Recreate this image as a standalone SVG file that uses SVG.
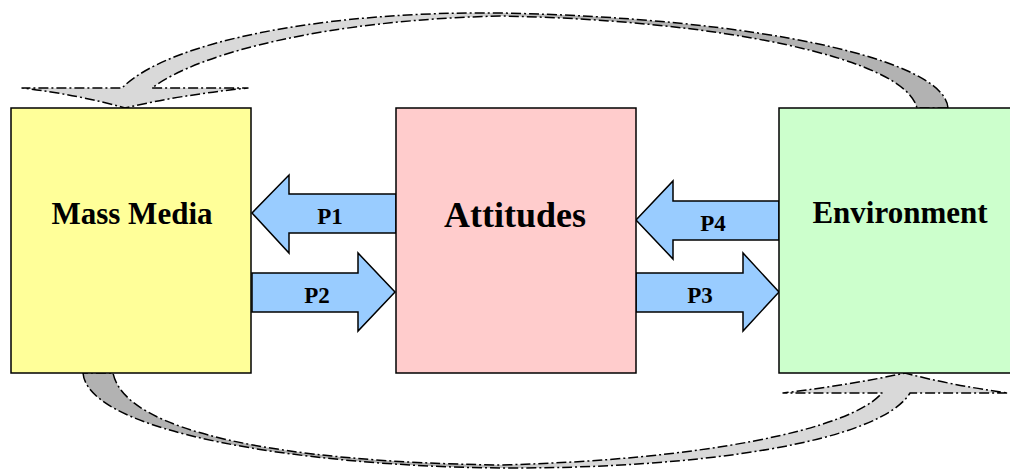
<svg xmlns="http://www.w3.org/2000/svg" width="1010" height="470" viewBox="0 0 1010 470">
  <style>
    .box { stroke: #000; stroke-width: 1.5; }
    .title { font-family: "Liberation Serif", "Times New Roman", serif; font-weight: bold; text-anchor: middle; fill: #000; }
    .arrow { fill: #99ccff; stroke: #000; stroke-width: 1.5; stroke-linejoin: miter; }
    .plabel { font-family: "Liberation Serif", "Times New Roman", serif; font-weight: bold; font-size: 23px; text-anchor: middle; fill: #000; }
    .curve { stroke: #000; stroke-width: 1.5; stroke-dasharray: 10 3 2 3; stroke-linejoin: round; }
  </style>
  <defs>
    <linearGradient id="gTop" gradientUnits="userSpaceOnUse" x1="947" y1="0" x2="125" y2="0">
      <stop offset="0" stop-color="#b2b2b2"/>
      <stop offset="0.45" stop-color="#b2b2b2"/>
      <stop offset="0.6" stop-color="#d9d9d9"/>
      <stop offset="1" stop-color="#d9d9d9"/>
    </linearGradient>
    <linearGradient id="gBot" gradientUnits="userSpaceOnUse" x1="83" y1="0" x2="905" y2="0">
      <stop offset="0" stop-color="#b2b2b2"/>
      <stop offset="0.45" stop-color="#b2b2b2"/>
      <stop offset="0.6" stop-color="#d9d9d9"/>
      <stop offset="1" stop-color="#d9d9d9"/>
    </linearGradient>
  </defs>
  <rect width="1010" height="470" fill="#ffffff"/>

  <g id="connectors">
    <path id="curve-top" class="curve" fill="url(#gTop)" d="M 948,108 C 945,60 760,18 500,13 C 330,11 170,40 122,88 L 22,88 Q 80,95 125,108 Q 180,95 248,88 L 152,88 C 200,52 330,20 500,16 C 720,20 905,58 917,108 Z"/>
    <path id="curve-bottom" class="curve" fill="url(#gBot)" d="M 83,373 C 88,432 300,466 500,468 C 700,469 880,442 910,393 L 1008,393 Q 950,385 905,373 Q 850,385 783,393 L 882,393 C 850,430 700,460 500,465 C 280,462 125,432 113,373 Z"/>
    <g id="p1">
      <polygon class="arrow" points="396,194 289,194 289,175 252,213 289,253 289,233 396,233"/>
      <text class="plabel" x="330" y="224">P1</text>
    </g>
    <g id="p2">
      <polygon class="arrow" points="252,273 358,273 358,253 395,292 358,331 358,312 252,312"/>
      <text class="plabel" x="317" y="303">P2</text>
    </g>
    <g id="p4">
      <polygon class="arrow" points="779,201 673,201 673,181 636,220 673,259 673,240 779,240"/>
      <text class="plabel" x="713" y="231">P4</text>
    </g>
    <g id="p3">
      <polygon class="arrow" points="636,273 743,273 743,253 779,292 743,331 743,312 636,312"/>
      <text class="plabel" x="700" y="303">P3</text>
    </g>
  </g>

  <g id="mass-media">
    <rect class="box" x="11" y="108" width="240" height="265" fill="#ffff99"/>
    <text class="title" x="132" y="224" font-size="31">Mass Media</text>
  </g>
  <g id="attitudes">
    <rect class="box" x="396" y="108" width="240" height="265" fill="#ffcccc"/>
    <text class="title" x="515" y="227" font-size="36">Attitudes</text>
  </g>
  <g id="environment">
    <rect class="box" x="779" y="108" width="245" height="265" fill="#ccffcc"/>
    <text class="title" x="900" y="223" font-size="31">Environment</text>
  </g>
</svg>
